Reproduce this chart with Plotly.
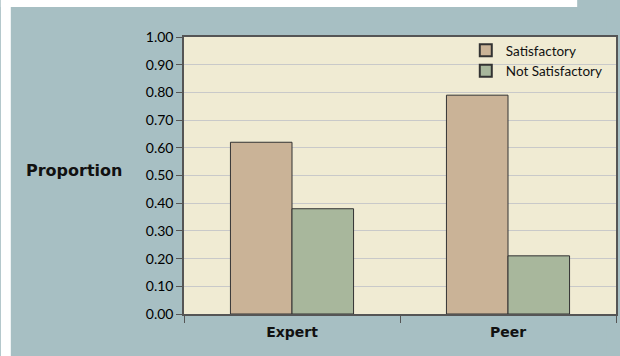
import plotly.graph_objects as go

categories = ["Expert", "Peer"]
satisfactory = [0.62, 0.79]
not_satisfactory = [0.38, 0.21]
y_ticks = [0.0, 0.1, 0.2, 0.3, 0.4, 0.5, 0.6, 0.7, 0.8, 0.9, 1.0]

W, H = 620, 356
ML, MR, MT, MB = 184, 2, 37, 42
pw, ph = W - ML - MR, H - MT - MB
TEAL = "#A7BFC3"

FONT = "Lato, 'Open Sans', sans-serif"
BOLD = "'DejaVu Sans', sans-serif"

fig = go.Figure()
fig.add_trace(go.Bar(name="Satisfactory", x=categories, y=satisfactory,
                     marker=dict(color="#CAB397", line=dict(color="#333333", width=1))))
fig.add_trace(go.Bar(name="Not Satisfactory", x=categories, y=not_satisfactory,
                     marker=dict(color="#A8B79C", line=dict(color="#333333", width=1))))

fig.update_layout(
    width=W, height=H,
    margin=dict(l=ML, r=MR, t=MT, b=MB),
    paper_bgcolor=TEAL,
    plot_bgcolor="#F0EBD3",
    barmode="group",
    bargap=0.43,
    bargroupgap=0,
    font=dict(family=FONT, size=14, color="#000000"),
    showlegend=True,
    legend=dict(x=0.981, y=1 + 2 / ph, xanchor="right", yanchor="top",
                bgcolor="rgba(0,0,0,0)", font=dict(size=13.5, color="#111111"),
                tracegroupgap=2, itemsizing="constant"),
    xaxis=dict(showgrid=False, showline=True, linecolor="#555555", linewidth=1.5,
               mirror=True, tickson="boundaries", ticks="outside", ticklen=7,
               tickcolor="#555555", ticklabelstandoff=4,
               tickfont=dict(size=14, family=BOLD, weight="bold", color="#111111"),
               range=[-0.5, 1.5]),
    yaxis=dict(range=[0, 1.0], tickvals=y_ticks, tickformat=".2f",
               showgrid=True, gridcolor="#C9C9C9", gridwidth=1,
               showline=True, linecolor="#555555", linewidth=1.5, mirror=True,
               ticks="outside", ticklen=6, tickcolor="#555555",
               tickfont=dict(size=14, color="#000000"), zeroline=False),
    shapes=[
        dict(type="rect", xref="paper", yref="paper",
             x0=-ML / pw, x1=-(ML - 10) / pw, y0=-MB / ph, y1=1 + MT / ph,
             fillcolor="white", line=dict(width=0), layer="below"),
        dict(type="rect", xref="paper", yref="paper",
             x0=-ML / pw, x1=(579 - ML) / pw, y0=1 + (MT - 7) / ph, y1=1 + MT / ph,
             fillcolor="white", line=dict(width=0), layer="below"),
        dict(type="rect", xref="paper", yref="paper",
             x0=1 - 10 / pw, x1=1 + MR / pw, y0=1 + 1 / ph, y1=1 + MT / ph,
             fillcolor=TEAL, line=dict(width=0), layer="below"),
        dict(type="rect", xref="paper", yref="paper",
             x0=1 - 10 / pw, x1=1 + MR / pw, y0=-MB / ph, y1=-10 / ph,
             fillcolor=TEAL, line=dict(width=0), layer="below"),
    ],
    annotations=[
        dict(text="<b>Proportion</b>", xref="paper", yref="paper",
             x=-(ML - 73.5) / pw, y=(H - MB - 170) / ph, xanchor="center", yanchor="middle",
             showarrow=False, font=dict(size=16, family=BOLD, color="#111111")),
    ],
)

fig.write_html("out.html")
